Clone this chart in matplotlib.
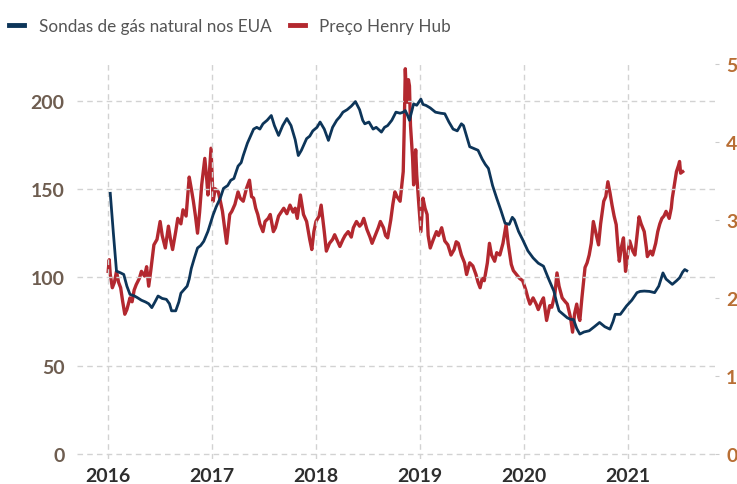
import matplotlib
matplotlib.use("Agg")
import matplotlib.pyplot as plt
from matplotlib.lines import Line2D
from matplotlib import font_manager as fm

# ---------------- data ----------------
rig_t = [2016.02, 2016.05, 2016.08, 2016.12, 2016.15, 2016.18, 2016.21, 2016.25, 2016.28, 2016.32,
         2016.36, 2016.39, 2016.42, 2016.45, 2016.48, 2016.52, 2016.56, 2016.59, 2016.61, 2016.65,
         2016.68, 2016.70, 2016.73, 2016.76, 2016.78, 2016.80, 2016.83, 2016.86, 2016.89, 2016.92,
         2016.96, 2017.01, 2017.04, 2017.08, 2017.11, 2017.15, 2017.18, 2017.21, 2017.25, 2017.28,
         2017.30, 2017.34, 2017.37, 2017.40, 2017.43, 2017.46, 2017.49, 2017.53, 2017.57, 2017.60,
         2017.64, 2017.68, 2017.72, 2017.76, 2017.80, 2017.83, 2017.86, 2017.91, 2017.94, 2017.97,
         2018.01, 2018.04, 2018.08, 2018.12, 2018.16, 2018.20, 2018.23, 2018.26, 2018.30, 2018.34,
         2018.38, 2018.42, 2018.45, 2018.47, 2018.51, 2018.55, 2018.58, 2018.63, 2018.66, 2018.69,
         2018.73, 2018.77, 2018.81, 2018.84, 2018.86, 2018.88, 2018.90, 2018.94, 2018.97, 2019.01,
         2019.03, 2019.06, 2019.10, 2019.15, 2019.20, 2019.24, 2019.28, 2019.32, 2019.36, 2019.40,
         2019.42, 2019.45, 2019.48, 2019.52, 2019.56, 2019.60, 2019.63, 2019.66, 2019.70, 2019.74,
         2019.78, 2019.82, 2019.86, 2019.89, 2019.91, 2019.95, 2019.99, 2020.04, 2020.09, 2020.14,
         2020.19, 2020.24, 2020.29, 2020.32, 2020.34, 2020.38, 2020.42, 2020.45, 2020.48, 2020.51,
         2020.54, 2020.58, 2020.63, 2020.68, 2020.73, 2020.78, 2020.83, 2020.86, 2020.88, 2020.93,
         2020.99, 2021.04, 2021.09, 2021.12, 2021.16, 2021.21, 2021.26, 2021.30, 2021.34, 2021.37,
         2021.43, 2021.47, 2021.50, 2021.53, 2021.55, 2021.57]
rig_v = [147.6, 125, 103.5, 102.5, 101.6, 95, 90.3, 89.5, 88.5, 87,
         86, 85, 82.8, 86, 89.4, 88, 87.5, 85, 81, 81,
         86, 91, 93, 95, 99, 105, 111, 116.6, 118, 120.4,
         126, 135.4, 140, 145, 150.4, 152, 155, 156, 163, 165,
         169, 176, 180, 184, 185, 184, 187, 189, 191.7, 186,
         180.4, 186, 190, 186, 178, 169, 172, 178.6, 180, 183,
         185, 188, 184, 177.6, 185, 189, 191, 193.6, 195, 197,
         199.6, 195, 189, 187, 188, 184, 185, 182.3, 185, 186,
         189, 193.6, 193, 193.6, 194.5, 192, 189, 198.3, 197.5, 201,
         198, 197.4, 196, 193.6, 193, 192.7, 188, 184, 183, 187,
         186, 180, 174, 173, 172, 167, 164, 161.7, 152, 144.8,
         138, 130.7, 130, 134, 132.6, 126, 121.3, 115, 111, 108,
         106.3, 99, 92.2, 85, 81, 79, 77, 76.2, 76, 71,
         67.8, 69, 69.7, 72, 74.4, 72, 70.6, 75, 79, 79,
         83.8, 87, 91.3, 92, 92.2, 92, 91.3, 95, 102.5, 99,
         96, 98, 99.7, 103, 104.4, 103.7]

price_t = [2016.00, 2016.01, 2016.02, 2016.04, 2016.06, 2016.08, 2016.10, 2016.12, 2016.14, 2016.16,
           2016.18, 2016.21, 2016.23, 2016.25, 2016.27, 2016.30, 2016.32, 2016.35, 2016.37, 2016.39,
           2016.41, 2016.44, 2016.47, 2016.50, 2016.52, 2016.55, 2016.58, 2016.60, 2016.62, 2016.65,
           2016.67, 2016.70, 2016.72, 2016.75, 2016.78, 2016.80, 2016.82, 2016.84, 2016.86, 2016.88,
           2016.90, 2016.93, 2016.95, 2016.96, 2016.99, 2017.01, 2017.03, 2017.06, 2017.08, 2017.10,
           2017.12, 2017.14, 2017.17, 2017.19, 2017.22, 2017.25, 2017.27, 2017.30, 2017.33, 2017.36,
           2017.38, 2017.40, 2017.42, 2017.44, 2017.46, 2017.49, 2017.51, 2017.54, 2017.56, 2017.59,
           2017.61, 2017.64, 2017.67, 2017.69, 2017.72, 2017.75, 2017.78, 2017.80, 2017.82, 2017.85,
           2017.88, 2017.91, 2017.94, 2017.96, 2017.98, 2018.00, 2018.03, 2018.05, 2018.08, 2018.10,
           2018.13, 2018.16, 2018.18, 2018.21, 2018.23, 2018.26, 2018.28, 2018.31, 2018.34, 2018.36,
           2018.39, 2018.42, 2018.44, 2018.46, 2018.49, 2018.52, 2018.54, 2018.57, 2018.60, 2018.62,
           2018.65, 2018.67, 2018.69, 2018.72, 2018.74, 2018.76, 2018.78, 2018.81, 2018.83, 2018.84,
           2018.85, 2018.86, 2018.87, 2018.88, 2018.89, 2018.90, 2018.91, 2018.93, 2018.94, 2018.96,
           2018.97, 2018.99, 2019.01, 2019.03, 2019.05, 2019.07, 2019.08, 2019.10, 2019.13, 2019.16,
           2019.18, 2019.21, 2019.24, 2019.27, 2019.30, 2019.33, 2019.35, 2019.37, 2019.40, 2019.43,
           2019.45, 2019.48, 2019.51, 2019.54, 2019.56, 2019.58, 2019.60, 2019.62, 2019.65, 2019.67,
           2019.69, 2019.72, 2019.74, 2019.77, 2019.80, 2019.83, 2019.85, 2019.88, 2019.90, 2019.93,
           2019.96, 2019.99, 2020.02, 2020.04, 2020.06, 2020.09, 2020.12, 2020.14, 2020.17, 2020.19,
           2020.21, 2020.22, 2020.25, 2020.27, 2020.30, 2020.32, 2020.34, 2020.37, 2020.40, 2020.42,
           2020.45, 2020.47, 2020.49, 2020.51, 2020.53, 2020.54, 2020.56, 2020.59, 2020.61, 2020.63,
           2020.65, 2020.67, 2020.70, 2020.72, 2020.74, 2020.77, 2020.79, 2020.81, 2020.83, 2020.85,
           2020.87, 2020.89, 2020.91, 2020.92, 2020.94, 2020.96, 2020.98, 2021.00, 2021.02, 2021.05,
           2021.07, 2021.09, 2021.11, 2021.13, 2021.16, 2021.18, 2021.19, 2021.22, 2021.24, 2021.27,
           2021.29, 2021.31, 2021.33, 2021.35, 2021.37, 2021.40, 2021.42, 2021.43, 2021.45, 2021.47,
           2021.49, 2021.50, 2021.51, 2021.53]
price_v = [2.34, 2.49, 2.30, 2.13, 2.20, 2.34, 2.20, 2.13, 1.95, 1.79,
           1.85, 2.00, 1.95, 2.10, 2.17, 2.25, 2.34, 2.28, 2.40, 2.15,
           2.35, 2.68, 2.75, 2.98, 2.80, 2.64, 2.92, 2.75, 2.62, 2.85,
           3.02, 2.95, 3.13, 3.05, 3.55, 3.40, 3.24, 3.05, 2.83, 3.10,
           3.45, 3.79, 3.50, 3.32, 3.92, 3.24, 3.40, 3.36, 3.24, 3.11,
           2.90, 2.70, 3.07, 3.11, 3.20, 3.36, 3.28, 3.24, 3.40, 3.51,
           3.30, 3.28, 3.15, 3.07, 2.95, 2.85, 2.98, 3.02, 3.07, 2.85,
           2.90, 3.05, 3.11, 3.15, 3.08, 3.19, 3.10, 3.15, 3.02, 3.32,
           3.07, 2.98, 2.75, 2.62, 2.85, 2.98, 3.05, 3.19, 2.85, 2.60,
           2.70, 2.75, 2.81, 2.72, 2.66, 2.75, 2.80, 2.85, 2.78, 2.90,
           2.98, 2.92, 2.95, 3.02, 2.88, 2.78, 2.70, 2.80, 2.90, 2.98,
           2.90, 2.80, 2.77, 3.00, 3.20, 3.36, 3.30, 3.24, 3.50, 3.62,
           4.20, 4.94, 4.60, 4.51, 4.80, 4.72, 4.21, 3.80, 3.45, 3.90,
           3.58, 3.20, 2.85, 3.28, 3.15, 3.07, 2.80, 2.64, 2.75, 2.85,
           2.80, 2.90, 2.73, 2.68, 2.55, 2.62, 2.72, 2.70, 2.55, 2.45,
           2.30, 2.45, 2.41, 2.30, 2.20, 2.13, 2.25, 2.22, 2.45, 2.70,
           2.55, 2.47, 2.58, 2.55, 2.70, 2.94, 2.70, 2.43, 2.35, 2.30,
           2.25, 2.22, 2.10, 2.00, 1.92, 2.00, 1.92, 1.85, 1.95, 2.00,
           1.80, 1.71, 1.90, 1.88, 2.05, 2.32, 2.15, 2.00, 1.95, 1.92,
           1.75, 1.56, 1.80, 1.92, 1.75, 1.71, 2.00, 2.39, 2.45, 2.55,
           2.70, 2.98, 2.80, 2.68, 2.95, 3.24, 3.30, 3.49, 3.35, 3.19,
           3.05, 2.94, 2.60, 2.47, 2.65, 2.77, 2.34, 2.55, 2.73, 2.60,
           2.55, 2.80, 3.04, 2.95, 2.85, 2.65, 2.53, 2.60, 2.55, 2.70,
           2.85, 2.95, 3.02, 3.05, 3.11, 3.02, 3.15, 3.28, 3.45, 3.62,
           3.70, 3.75, 3.60, 3.62]

year_ticks = [2016, 2017, 2018, 2019, 2020, 2021]
left_ticks = [0, 50, 100, 150, 200]
right_ticks = [0, 1, 2, 3, 4, 5]
label_rigs = "Sondas de gás natural nos EUA"
label_price = "Preço Henry Hub"


# ---------------- fonts ----------------
def has_font(name, bold=False):
    for f in fm.fontManager.ttflist:
        if f.name == name:
            w = f.weight if isinstance(f.weight, int) else (700 if "bold" in str(f.weight).lower() else 400)
            if not bold or w >= 600:
                return True
    return False


TICK_FONT = "DejaVu Sans"
for cand in ["Lato", "Open Sans", "Noto Sans", "Roboto", "Liberation Sans"]:
    if has_font(cand, bold=True):
        TICK_FONT = cand
        break
LEG_FONT = TICK_FONT

# ---------------- style ----------------
blue = "#0d3559"
red = "#b3282f"
grid_c = "#d2d2d2"

fig = plt.figure(figsize=(7.37, 4.85), dpi=100)
ax = fig.add_axes([0.1045, 0.0515, 0.8655, 0.8185])
ax2 = ax.twinx()

ax.set_xlim(2015.70, 2021.84)
ax.set_ylim(-3, 222)
ax2.set_ylim(-3 / 44.17, 222 / 44.17)

ax.set_zorder(2)
ax2.set_zorder(1)
ax.patch.set_visible(False)

ax2.plot(price_t, price_v, color=red, lw=2.4, solid_joinstyle="round")
ax.plot(rig_t, rig_v, color=blue, lw=2.0, solid_joinstyle="round")

for a in (ax, ax2):
    for s in a.spines.values():
        s.set_visible(False)

ax.set_xticks(year_ticks)
ax.set_xticklabels([str(y) for y in year_ticks])
ax.set_yticks(left_ticks)
ax2.set_yticks(right_ticks)

ax.grid(True, color=grid_c, linestyle=(0, (4, 3)), linewidth=1.0)
ax.set_axisbelow(True)

ax.tick_params(axis="x", length=0, pad=5.5, labelsize=14, labelcolor="#2e2e2e")
ax.tick_params(axis="y", length=0, pad=9, labelsize=14, labelcolor="#6e5d50")
ax2.tick_params(axis="y", length=3, width=0.8, color="#cccccc", pad=5,
                labelsize=14, labelcolor="#b86e34")
for lbl in ax.get_xticklabels() + ax.get_yticklabels() + ax2.get_yticklabels():
    lbl.set_fontfamily(TICK_FONT)
    lbl.set_fontweight("bold")

handles = [Line2D([], [], color=blue, lw=3.5), Line2D([], [], color=red, lw=3.5)]
leg = fig.legend(handles, [label_rigs, label_price], loc="upper left",
                 bbox_to_anchor=(-0.008, 0.992), ncol=2, frameon=False,
                 handlelength=0.85, handletextpad=0.85, columnspacing=1.1,
                 prop={"family": LEG_FONT, "size": 12.3})
for t in leg.get_texts():
    t.set_color("#555555")

fig.savefig("out.png", dpi=100)
